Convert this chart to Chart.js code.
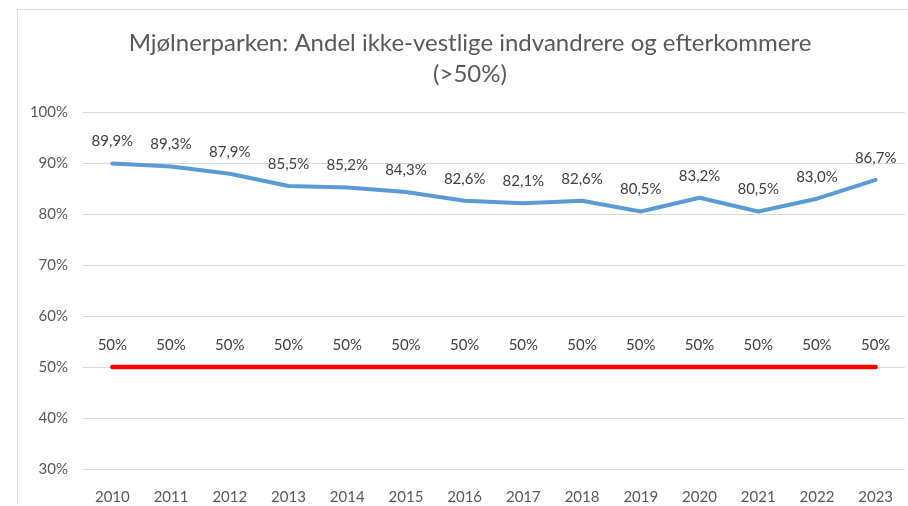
<!DOCTYPE html>
<html>
<head>
<meta charset="utf-8">
<script src="https://cdn.jsdelivr.net/npm/chart.js@4"></script>
<style>
  html, body { margin: 0; padding: 0; background: #fff; }
  #wrap { width: 908px; height: 506px; }
</style>
</head>
<body>
<div id="wrap"><canvas id="chart" width="908" height="506"></canvas></div>
<script>
const years = ['2010', '2011', '2012', '2013', '2014', '2015', '2016', '2017', '2018', '2019', '2020', '2021', '2022', '2023'];
const andel = [89.9, 89.3, 87.9, 85.5, 85.2, 84.3, 82.6, 82.1, 82.6, 80.5, 83.2, 80.5, 83.0, 86.7];
const graense = [50, 50, 50, 50, 50, 50, 50, 50, 50, 50, 50, 50, 50, 50];
const titleLines = ['Mjølnerparken: Andel ikke-vestlige indvandrere og efterkommere', '(>50%)'];

const FONT = 'Lato, "Open Sans", sans-serif';

// frame + title, drawn behind the chart
const framePlugin = {
    id: 'frame',
    beforeDraw(chart) {
        const ctx = chart.ctx;
        ctx.save();
        ctx.strokeStyle = '#d9d9d9';
        ctx.lineWidth = 1;
        ctx.beginPath();
        ctx.moveTo(17.5, 504);
        ctx.lineTo(17.5, 9.5);
        ctx.lineTo(908, 9.5);
        ctx.stroke();
        ctx.fillStyle = '#595959';
        ctx.font = '24px ' + FONT;
        ctx.textAlign = 'center';
        ctx.textBaseline = 'middle';
        ctx.fillText(titleLines[0], 470, 43);
        ctx.fillText(titleLines[1], 470, 74);
        ctx.restore();
    }
};

// value labels above every point
const labelPlugin = {
    id: 'pointLabels',
    afterDatasetsDraw(chart) {
        const ctx = chart.ctx;
        ctx.save();
        ctx.fillStyle = '#404040';
        ctx.font = '15px ' + FONT;
        ctx.textAlign = 'center';
        ctx.textBaseline = 'middle';
        chart.data.datasets.forEach(function (ds, i) {
            const meta = chart.getDatasetMeta(i);
            meta.data.forEach(function (pt, j) {
                const v = ds.data[j];
                const txt = i === 1 ? v + '%' : v.toFixed(1).replace('.', ',') + '%';
                ctx.fillText(txt, pt.x, pt.y - 22);
            });
        });
        ctx.restore();
    }
};

new Chart(document.querySelector('#chart'), {
    type: 'line',
    data: {
        labels: years,
        datasets: [{
            data: andel,
            borderColor: '#5b9bd5',
            borderWidth: 4,
            pointRadius: 0,
            tension: 0,
            borderJoinStyle: 'round',
            borderCapStyle: 'round'
        }, {
            data: graense,
            borderColor: '#ff0000',
            borderWidth: 4.5,
            pointRadius: 0,
            borderCapStyle: 'round'
        }]
    },
    options: {
        responsive: false,
        animation: false,
        layout: { padding: { top: 112, right: 3, left: 0, bottom: 0 } },
        plugins: {
            legend: { display: false },
            tooltip: { enabled: false }
        },
        scales: {
            x: {
                offset: true,
                grid: { display: false },
                border: { display: false },
                ticks: { color: '#595959', font: { family: FONT, size: 15 }, padding: 11, maxRotation: 0 },
                afterFit: function (scale) { scale.height = 37; }
            },
            y: {
                min: 30,
                max: 100,
                grid: { color: '#d9d9d9', drawTicks: false },
                border: { display: false },
                ticks: {
                    stepSize: 10,
                    color: '#595959',
                    font: { family: FONT, size: 15 },
                    padding: 15,
                    callback: function (value) { return value + '%'; }
                },
                afterFit: function (scale) { scale.width = 83; }
            }
        }
    },
    plugins: [framePlugin, labelPlugin]
});
</script>
</body>
</html>
